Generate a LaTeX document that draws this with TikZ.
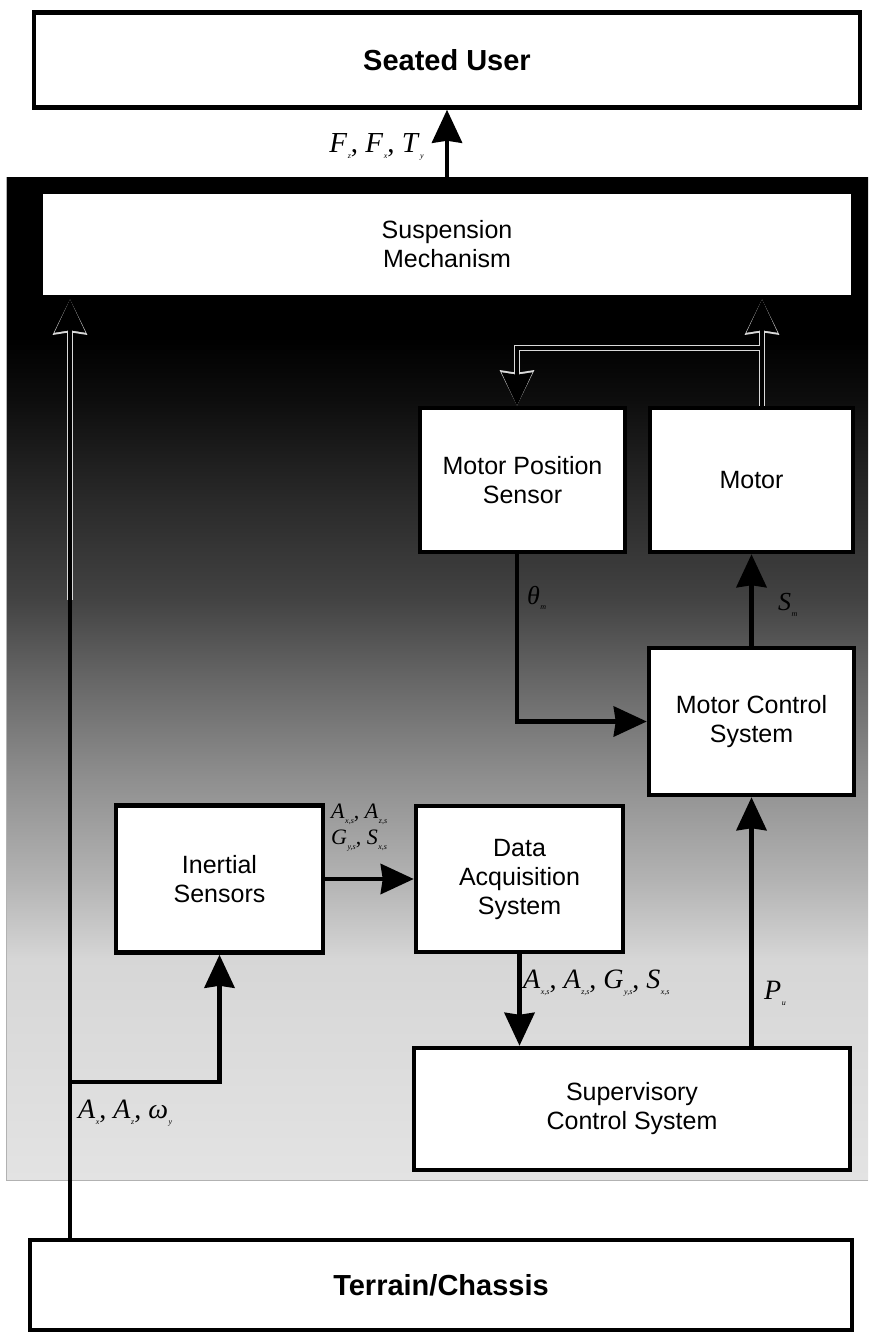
\documentclass[tikz,border=0pt]{standalone}
\usepackage{fontspec}
\setmainfont{Liberation Sans}
\newfontfamily\tms{Liberation Serif}
\usetikzlibrary{arrows.meta,calc}
\pgfdeclareverticalshading{bgshade}{100bp}{color(0bp)=(black!11); color(25bp)=(black!11); color(36bp)=(black!16); color(40bp)=(black!30); color(45bp)=(black!44); color(50bp)=(black!60); color(54bp)=(black!74); color(59bp)=(black!84); color(64bp)=(black!95); color(67bp)=(black); color(100bp)=(black)}
\newcommand\lab[2]{\textit{#1}\kern0.5pt\raisebox{-0.22em}{\fontsize{8}{8}\selectfont\textit{#2}}}
\begin{document}
\begin{tikzpicture}[x=1pt,y=-1pt,
  box/.style={draw=black, fill=white, line width=4.5pt, align=center, font=\fontsize{25}{29}\selectfont, inner sep=0pt},
  bbox/.style={box, font=\fontsize{29}{33}\selectfont\bfseries},
  conn/.style={line width=4.5pt, -{Stealth[length=33pt,width=30pt,inset=2pt]}},
  halo/.style={line width=6.5pt, draw=gray!30, -{Stealth[length=35pt,width=33pt,inset=2pt]}},
  lbl/.style={font=\tms\fontsize{26}{30}\selectfont, inner sep=0pt}]
\useasboundingbox (0,0) rectangle (868,1335);
% background
\shade[shading=bgshade] (6,177) rectangle (868,1180);
\draw[gray!60, line width=1pt] (6,177) -- (6,1180) -- (868,1180);
% boxes
\node[bbox, minimum width=826pt, minimum height=95pt] (seated) at (447,60) {Seated User};
\node[box, minimum width=812pt, minimum height=105pt] (susp) at (447,244.5) {Suspension\\Mechanism};
\node[box, minimum width=205pt, minimum height=144pt] (mps) at (522.5,480) {Motor Position\\Sensor};
\node[box, minimum width=203pt, minimum height=144pt] (motor) at (751.5,480) {Motor};
\node[box, minimum width=205pt, minimum height=147pt] (mcs) at (751.5,721.5) {Motor Control\\System};
\node[box, minimum width=207pt, minimum height=147pt] (is) at (219.5,879) {Inertial\\Sensors};
\node[box, minimum width=207pt, minimum height=146pt] (daq) at (519.5,879) {Data\\Acquisition\\System};
\node[box, minimum width=436pt, minimum height=122pt] (sup) at (632,1109) {Supervisory\\Control System};
\node[bbox, minimum width=822pt, minimum height=90pt] (terrain) at (441,1285) {Terrain/Chassis};
% helper coordinates
\coordinate (lx) at (70,0);
\coordinate (lh) at (70,600);
\coordinate (br) at (70,1082);
\coordinate (mx) at (762,0);
\coordinate (ly) at (0,348);
\coordinate (ex) at (517,0);
% connectors
\draw[conn] (susp.north) -- (seated.south);
\draw[halo] (lh) -- (susp.south -| lx);
\draw[conn] (terrain.north -| lx) -- (susp.south -| lx);
\draw[conn] (br) -| (is.south);
\draw[conn] (is.east) -- (daq.west);
\draw[conn] (daq.south) -- (daq.south |- sup.north);
\draw[conn] (sup.north -| mcs.south) -- (mcs.south);
\draw[conn] (mcs.north) -- (motor.south);
\draw[conn] (mps.south -| ex) |- (mcs.west);
\draw[halo] (motor.north -| mx) -- (susp.south -| mx);
\draw[halo] (mx |- ly) -| (mps.north -| ex);
\draw[conn] (motor.north -| mx) -- (susp.south -| mx);
\draw[conn] (mx |- ly) -| (mps.north -| ex);
% labels
\node[lbl, anchor=east, font=\tms\fontsize{29}{33}\selectfont] (lf) at (424,147) {\lab{F}{z}, \lab{F}{x}, \lab{T}{y}};
\node[lbl, anchor=west] (lth) at (527,598) {\lab{θ}{m}};
\node[lbl, anchor=west] (ls) at (778,605) {\lab{S}{m}};
\node[lbl, anchor=north west, align=left, font=\tms\fontsize{22}{26}\selectfont] (lin) at (331,804) {\lab{A}{x,s}, \lab{A}{z,s}\\\lab{G}{y,s}, \lab{S}{x,s}};
\node[lbl, anchor=west, font=\tms\fontsize{28}{32}\selectfont] (lout) at (523,983) {\lab{A}{x,s}, \lab{A}{z,s}, \lab{G}{y,s}, \lab{S}{x,s}};
\node[lbl, anchor=west, font=\tms\fontsize{28}{32}\selectfont] (lp) at (764,993) {\lab{P}{u}};
\node[lbl, anchor=west, font=\tms\fontsize{28}{32}\selectfont] (lt) at (78,1113) {\lab{A}{x}, \lab{A}{z}, \lab{ω}{y}};
\end{tikzpicture}
\end{document}
